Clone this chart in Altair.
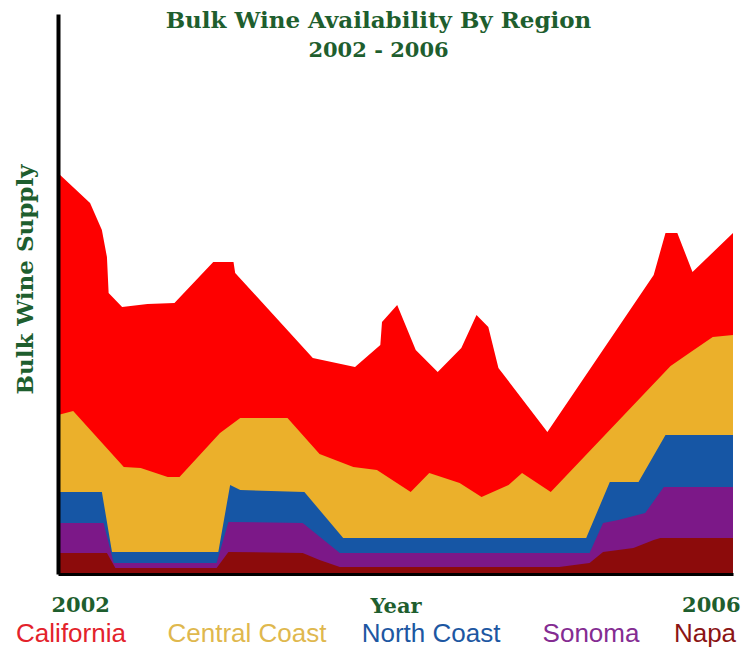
import altair as alt
import pandas as pd

# ---- data (supply in arbitrary units) ----
regions = ["California", "Central Coast", "North Coast", "Sonoma", "Napa"]
area_colors = ["#fe0000", "#ebb02b", "#1656a5", "#7c1888", "#8c0b0b"]
label_colors = ["#e3222b", "#dfb84e", "#1d57a2", "#842c92", "#8b1414"]

# each list is the upper edge of that region's band in the stacked picture
california_year = [2002.00, 2002.19, 2002.26, 2002.29, 2002.30, 2002.38, 2002.53, 2002.69,
                   2002.92, 2003.04, 2003.05, 2003.51, 2003.76, 2003.91, 2003.92, 2004.01,
                   2004.12, 2004.25, 2004.39, 2004.48, 2004.55, 2004.61, 2004.90, 2005.53,
                   2005.60, 2005.67, 2005.76, 2006.00]
california_supply = [401, 371, 344, 317, 281, 267, 270, 271,
                     312, 312, 301, 216, 207, 229, 252, 269,
                     224, 202, 226, 259, 247, 206, 142, 299,
                     341, 341, 302, 341]

central_year = [2002.00, 2002.09, 2002.39, 2002.49, 2002.65, 2002.72, 2002.96, 2003.08,
                2003.36, 2003.55, 2003.75, 2003.89, 2004.09, 2004.20, 2004.38, 2004.51,
                2004.67, 2004.75, 2004.92, 2005.63, 2005.75, 2005.88, 2006.00]
central_supply = [159, 163, 107, 106, 97, 97, 141, 156,
                  156, 120, 107, 104, 82, 101, 91, 77,
                  89, 101, 82, 208, 222, 237, 239]

north_year = [2002.00, 2002.26, 2002.32, 2002.95, 2003.02, 2003.08, 2003.46, 2003.69,
              2005.13, 2005.27, 2005.44, 2005.60, 2006.00]
north_supply = [82, 82, 22, 22, 89, 84, 82, 36, 36, 92, 92, 139, 139]

sonoma_year = [2002.00, 2002.27, 2002.33, 2002.94, 2003.01, 2003.45, 2003.67, 2005.15,
               2005.23, 2005.32, 2005.48, 2005.59, 2006.00]
sonoma_supply = [51, 51, 11, 11, 52, 51, 21, 21, 51, 54, 61, 87, 87]

napa_year = [2002.00, 2002.29, 2002.34, 2002.94, 2003.01, 2003.45, 2003.55, 2003.67,
             2004.97, 2005.15, 2005.23, 2005.41, 2005.53, 2005.57, 2006.00]
napa_supply = [21, 21, 6, 6, 22, 21, 14, 7, 7, 11, 22, 26, 34, 36, 36]

year_ticks = [2002, 2006]

series = {
    "California": (california_year, california_supply),
    "Central Coast": (central_year, central_supply),
    "North Coast": (north_year, north_supply),
    "Sonoma": (sonoma_year, sonoma_supply),
    "Napa": (napa_year, napa_supply),
}

# ---- layout / style ----
GREEN = "#1e5e2e"
SERIF = "DejaVu Serif"
# horizontal centre of each legend word, relative to the plot's left edge
legend_centers = [13, 189, 373, 533, 647]
legend_baseline = 628

color_scale = alt.Scale(domain=regions, range=area_colors)
label_scale = alt.Scale(domain=regions, range=label_colors)

x_axis = alt.Axis(
    values=year_ticks, format="d", labelFlush=True, labelFlushOffset=7,
    ticks=False, tickSize=0, grid=False,
    domainColor="black", domainWidth=3,
    labelFont=SERIF, labelFontWeight="bold", labelFontSize=21, labelColor=GREEN,
    labelPadding=20,
    title="Year", titleFont=SERIF, titleFontWeight="bold", titleFontSize=21,
    titleColor=GREEN, titleY=38, titleBaseline="alphabetic", zindex=1,
)
y_axis = alt.Axis(
    labels=False, ticks=False, tickSize=0, grid=False,
    domainColor="black", domainWidth=4,
    title="Bulk Wine Supply", titleFont=SERIF, titleFontWeight="bold",
    titleFontSize=23, titleColor=GREEN, titleX=-33, titleY=265,
    titleAngle=270, titleAlign="center", titleBaseline="middle", zindex=1,
)

x_enc = alt.X("year:Q", scale=alt.Scale(domain=[2002, 2006], nice=False, zero=False),
              axis=x_axis)
y_enc = alt.Y("supply:Q", scale=alt.Scale(domain=[0, 560], nice=False),
              axis=y_axis, stack=False)

layers = []
for name in regions:
    yrs, vals = series[name]
    df = pd.DataFrame({"year": yrs, "supply": vals, "region": name})
    layers.append(
        alt.Chart(df).mark_area(interpolate="linear").encode(
            x=x_enc, y=y_enc,
            color=alt.Color("region:N", scale=color_scale, legend=None),
        )
    )

# coloured-word legend under the chart
for name, cx in zip(regions, legend_centers):
    ldf = pd.DataFrame({"region": [name]})
    layers.append(
        alt.Chart(ldf).mark_text(
            align="center", baseline="alphabetic",
            font="Liberation Sans", fontSize=26,
        ).encode(
            text="region:N",
            x=alt.value(cx), y=alt.value(legend_baseline),
            fill=alt.Fill("region:N", scale=label_scale, legend=None),
        )
    )

chart = alt.layer(*layers).resolve_scale(color="independent", fill="independent").properties(
    width=675, height=560,
    padding={"left": 58, "top": 14, "right": 11, "bottom": 74},
    autosize=alt.AutoSizeParams(type="none"),
    title=alt.TitleParams(
        text="Bulk Wine Availability By Region", subtitle="2002 - 2006",
        font=SERIF, fontWeight="bold", fontSize=23, color=GREEN,
        subtitleFont=SERIF, subtitleFontWeight="bold", subtitleFontSize=21,
        subtitleColor=GREEN, subtitlePadding=7,
        anchor="middle", offset=-47, dx=-17,
    ),
    background="white",
).configure_view(strokeWidth=0)

chart.save("out.html", embed_options={"renderer": "svg", "actions": False})
